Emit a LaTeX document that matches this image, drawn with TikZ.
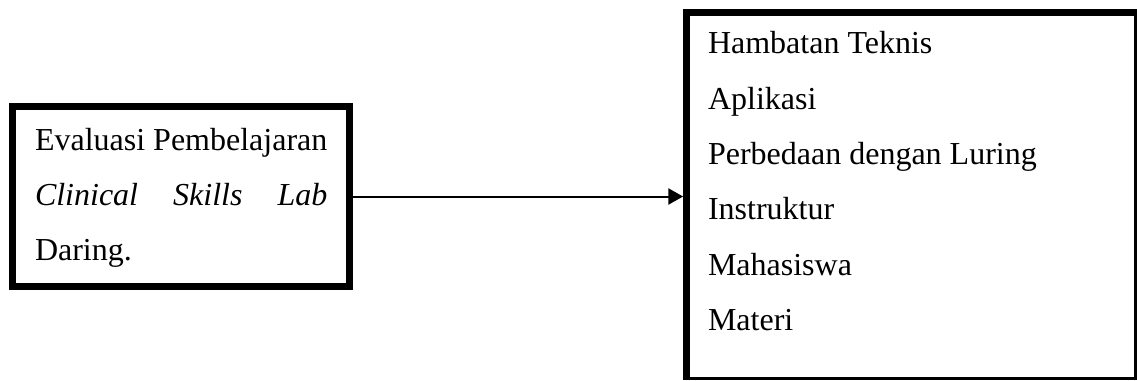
\documentclass[tikz,border=0pt]{standalone}
\usepackage{fontspec}
\setmainfont{Liberation Serif}
\usetikzlibrary{arrows.meta}
\begin{document}
\begin{tikzpicture}[x=0.75pt,y=-0.75pt,
  txt/.style={anchor=base west, inner sep=0pt, outer sep=0pt, font=\fontsize{24}{28}\selectfont},
  leftbox/.style={draw, line width=5.25pt, minimum width=252.75pt, minimum height=135pt, inner sep=0pt},
  rightbox/.style={draw, line width=1.7pt, minimum width=337.875pt, minimum height=275.25pt, inner sep=0pt},
  thickside/.style={line width=5.25pt, line cap=butt, line join=miter},
  link/.style={line width=1.5pt, -{Triangle[length=11pt,width=12pt]}}]
\useasboundingbox (0,0) rectangle (1137,381);
\fill[white] (0,0) rectangle (1137,381);
% boxes
\node[leftbox] (lb) at (181,196.5) {};
\node[rightbox] (rb) at (910.25,195) {};
\draw[thickside] ([xshift=1.7pt]rb.south west) -- ([xshift=1.7pt,yshift=-1.7pt]rb.north west) -- ([yshift=-1.7pt]rb.north east);
% left text
\node[txt] (l1) at (35,151) {Evaluasi Pembelajaran};
\node[txt] (l2) at (35,205.5) {\hbox to 219.3pt{\itshape Clinical\hfill Skills\hfill Lab}};
\node[txt] (l3) at (35,260) {Daring.};
% right text
\node[txt] (r1) at (708,54) {Hambatan Teknis};
\node[txt] (r2) at (708,109.3) {Aplikasi};
\node[txt] (r3) at (708,164.6) {Perbedaan dengan Luring};
\node[txt] (r4) at (708,219.9) {Instruktur};
\node[txt] (r5) at (708,275.2) {Mahasiswa};
\node[txt] (r6) at (708,330.5) {Materi};
% connector
\draw[link] (lb.east) -- ([xshift=-0.6pt]lb.east -| rb.west);
\end{tikzpicture}
\end{document}
